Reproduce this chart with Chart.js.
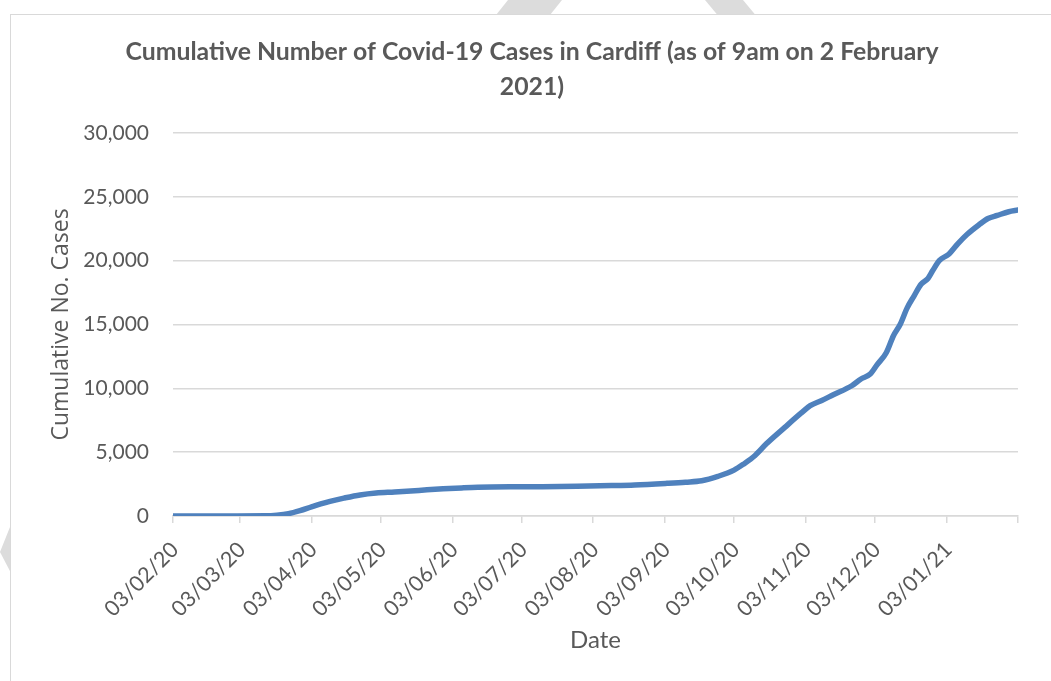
<!DOCTYPE html>
<html>
<head>
<meta charset="utf-8">
<title>Covid-19 Cases in Cardiff</title>
<script src="https://cdn.jsdelivr.net/npm/chart.js@4.4.1/dist/chart.umd.min.js"></script>
<style>
html, body { margin: 0; padding: 0; background: #fff; }
body { width: 1051px; height: 681px; overflow: hidden; position: relative; }
.mark { position: absolute; left: 0; top: 0; width: 1051px; height: 681px; background: #dcdcdc; }
#m1 { clip-path: polygon(508px 0, 562px 0, 538px 30px, 484px 30px); }
#m2 { clip-path: polygon(705px 0, 743px 0, 768px 30px, 730px 30px); }
#m3 { clip-path: polygon(0 552px, 12px 522px, 12px 575px); }
#chart_box {
	position: absolute; left: 10px; top: 14px;
	width: 1056px; height: 700px;
	border: 1.5px solid #d9d9d9; background: #fff;
}
</style>
</head>
<body>
<div class="mark" id="m1"></div>
<div class="mark" id="m2"></div>
<div class="mark" id="m3"></div>
<div id="chart_box"><canvas id="myChart" width="1056" height="700"></canvas></div>

<script>
// data (day 0 = 03/02/20)
var days = [0, 14, 28, 40, 45, 50, 55, 60, 64, 68, 74, 81, 88, 96, 103, 110, 117, 125, 132,
	146, 160, 175, 190, 200, 214, 222, 229, 236, 243, 247, 252, 257, 265, 272, 276, 281, 286,
	294, 298, 302, 305, 309, 312, 315, 318, 321, 324, 327, 329, 332, 336, 340, 344, 349, 353,
	357, 362, 366];
var cases = [0, 0, 0, 10, 60, 180, 420, 720, 950, 1150, 1400, 1650, 1800, 1880, 1960, 2050, 2130, 2200, 2250,
	2290, 2300, 2330, 2380, 2430, 2560, 2650, 2760, 3100, 3590, 4050, 4720, 5650, 6940, 8050, 8640, 9050, 9500,
	10200, 10730, 11120, 11850, 12810, 14100, 15020, 16300, 17240, 18150, 18600, 19200, 20020, 20500, 21330, 22060, 22790, 23300,
	23540, 23830, 23960];

// month ticks on the date axis
var tickDays = [0, 29, 60, 90, 121, 151, 182, 213, 243, 274, 304, 335, 366];
var tickLabels = ['03/02/20', '03/03/20', '03/04/20', '03/05/20', '03/06/20', '03/07/20', '03/08/20',
	'03/09/20', '03/10/20', '03/11/20', '03/12/20', '03/01/21', ''];

var yTicks = [0, 5000, 10000, 15000, 20000, 25000, 30000];

var titleLines = ['Cumulative Number of Covid-19 Cases in Cardiff (as of 9am on 2 February', '2021)'];

var textColor = '#595959';
var gridColor = '#d9d9d9';

function make_points(){
	var pts = [];
	for(var i = 0; i < days.length; i++){
		pts.push({x: days[i], y: cases[i]});
	}
	return pts;
}

function draw_chart(){
	var ctx = document.getElementById('myChart');
	var myChart = new Chart(ctx, {
		type: 'line',
		data: {
			datasets: [{
				label: 'Cumulative No. Cases',
				data: make_points(),
				borderColor: '#4f81bd',
				backgroundColor: '#4f81bd',
				borderWidth: 5.5,
				borderCapStyle: 'round',
				borderJoinStyle: 'round',
				pointRadius: 0,
				fill: false,
				cubicInterpolationMode: 'monotone'
			}]
		},
		options: {
			responsive: false,
			animation: false,
			layout: {
				padding: {left: 35, right: 49, top: 0, bottom: 56}
			},
			plugins: {
				legend: {display: false},
				tooltip: {enabled: false},
				title: {
					display: true,
					text: titleLines,
					color: textColor,
					font: {family: 'Lato', size: 24.8, weight: 'bold', lineHeight: 1.41},
					padding: {top: 20, bottom: 28}
				}
			},
			scales: {
				x: {
					type: 'linear',
					min: 0,
					max: 366,
					afterBuildTicks: function(scale){
						scale.ticks = tickDays.map(function(d){ return {value: d}; });
					},
					afterFit: function(scale){
						scale.height = 143;
					},
					ticks: {
						autoSkip: false,
						maxRotation: 45,
						minRotation: 45,
						padding: 14,
						labelOffset: 2,
						color: textColor,
						font: {family: 'Lato', size: 21.5},
						callback: function(value){
							var i = tickDays.indexOf(value);
							return i >= 0 ? tickLabels[i] : '';
						}
					},
					grid: {
						drawOnChartArea: false,
						drawTicks: true,
						tickLength: 7,
						color: gridColor,
						lineWidth: 1.5
					},
					border: {display: true, color: gridColor, width: 1.5},
					title: {
						display: true,
						text: 'Date',
						color: textColor,
						font: {family: 'Lato', size: 24},
						padding: {top: 4, bottom: 4}
					}
				},
				y: {
					min: 0,
					max: 30000,
					afterBuildTicks: function(scale){
						scale.ticks = yTicks.map(function(v){ return {value: v}; });
					},
					afterFit: function(scale){
						scale.width = 127;
					},
					ticks: {
						padding: 24,
						color: textColor,
						font: {family: 'Lato', size: 21},
						callback: function(value){
							return value.toLocaleString('en-US');
						}
					},
					grid: {
						drawTicks: false,
						color: gridColor,
						lineWidth: 1.5
					},
					border: {display: false},
					title: {
						display: true,
						text: 'Cumulative No. Cases',
						color: textColor,
						font: {family: 'Open Sans', size: 23},
						padding: {top: 2, bottom: 4}
					}
				}
			}
		}
	});
	return myChart;
}

draw_chart();
</script>
</body>
</html>
